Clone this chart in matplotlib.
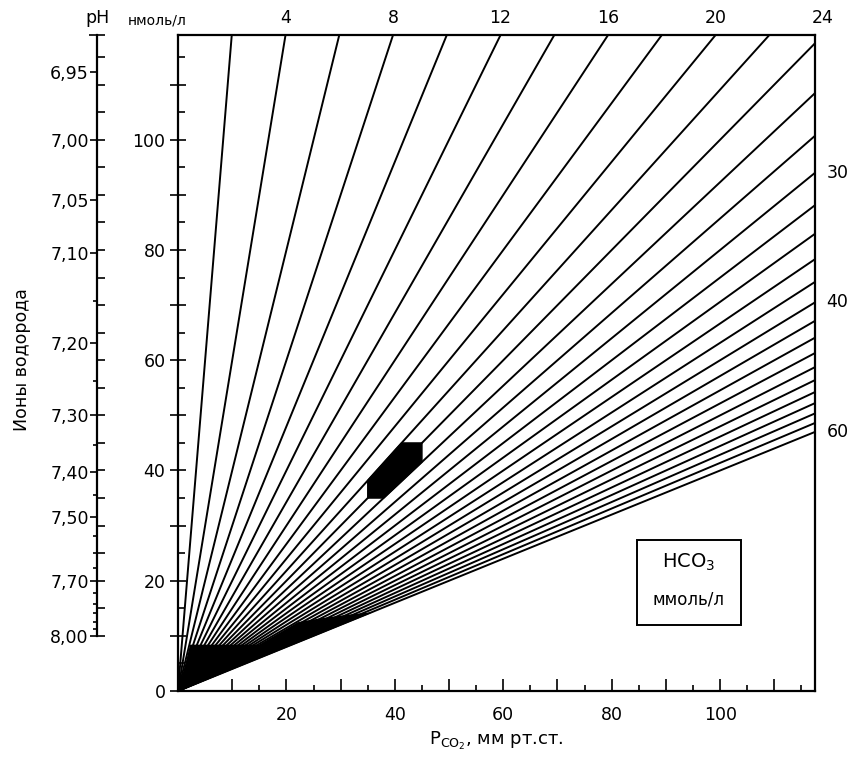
"""Nomogram: hydrogen ions vs PCO2 with HCO3 isopleths (Henderson equation)."""

import numpy as np
import matplotlib
matplotlib.use("Agg")
import matplotlib.pyplot as plt
from matplotlib.patches import Rectangle, Polygon

plt.rcParams['font.family'] = ['DejaVu Sans']

# --- data -------------------------------------------------------------
HCO3_LINES = [2, 4, 6, 8, 10, 12, 14, 16, 18, 20, 22, 24,
              26, 28, 30, 32, 34, 36, 38, 40, 42, 44, 46, 48, 50, 52, 54, 56, 58, 60]
TOP_LABELS = [4, 8, 12, 16, 20, 24]
RIGHT_LABELS = [30, 40, 60]

PH_MAJOR = [6.95, 7.00, 7.05, 7.10, 7.20, 7.30, 7.40, 7.50, 7.70, 8.00]
PH_MAJOR_TXT = ['6,95', '7,00', '7,05', '7,10', '7,20', '7,30', '7,40', '7,50', '7,70', '8,00']
PH_MINOR = [7.15, 7.25, 7.35, 7.45, 7.55, 7.60, 7.65, 7.75, 7.80, 7.85, 7.90, 7.95]

H_MAJOR = [0, 10, 20, 30, 40, 50, 60, 70, 80, 90, 100, 110]
H_LABELED = [0, 20, 40, 60, 80, 100]
H_MINOR = [5, 15, 25, 35, 45, 55, 65, 75, 85, 95, 105, 115]

PCO2_MAJOR = [10, 20, 30, 40, 50, 60, 70, 80, 90, 100, 110]
PCO2_LABELED = [20, 40, 60, 80, 100]
PCO2_MINOR = [15, 25, 35, 45, 55, 65, 75, 85, 95, 105, 115]

# normal range (PCO2, H+ and HCO3 bounds)
PCO2_NORMAL = (35, 45)
H_NORMAL = (35, 45)
HCO3_NORMAL = (22, 26)

XMAX = 117.5
YMAX = 119.0
K = 24.0  # H+ = 24 * PCO2 / HCO3


def h_ion(pco2, hco3):
    return K * np.asarray(pco2) / hco3


# --- figure -----------------------------------------------------------
W, H = 855, 757
fig = plt.figure(figsize=(W / 100, H / 100), dpi=100)
fig.patch.set_facecolor('white')

L, R, T, B = 178, 815, 35, 691
rect = [L / W, 1 - B / H, (R - L) / W, (B - T) / H]
ax = fig.add_axes(rect)
ax.set_xlim(0, XMAX)
ax.set_ylim(0, YMAX)

x = np.linspace(0, XMAX, 400)
for hco3 in HCO3_LINES:
    ax.plot(x, h_ion(x, hco3), color='black', lw=1.4, solid_capstyle='butt')

# ink pooled where the fan of lines converges near the origin (as in the print)
xw = np.linspace(0, 36, 200)
edge = np.interp(xw, [0, 22, 36], [42, 42, 60])
top = np.maximum(np.minimum(8.5, h_ion(xw, 6)), h_ion(xw, edge))
ax.fill_between(xw, h_ion(xw, max(HCO3_LINES)), top, color='black', lw=0)

# normal area
p0, p1 = PCO2_NORMAL
h0, h1 = H_NORMAL
c0, c1 = HCO3_NORMAL
verts = [(p0, h0), (p0, h_ion(p0, c0)), (h1 * c0 / K, h1), (p1, h1),
         (p1, h_ion(p1, c1)), (h0 * c1 / K, h0)]
ax.add_patch(Polygon(verts, closed=True, facecolor='black', edgecolor='black', lw=1, zorder=3))

for s in ax.spines.values():
    s.set_linewidth(1.6)

ax.set_xticks(PCO2_MAJOR)
ax.set_xticklabels([str(v) if v in PCO2_LABELED else '' for v in PCO2_MAJOR])
ax.set_xticks(PCO2_MINOR, minor=True)
ax.tick_params(axis='x', which='major', direction='in', length=9, width=1.2, pad=11, labelsize=12.5)
ax.tick_params(axis='x', which='minor', direction='in', length=4, width=1.2)

ax.set_yticks(H_MAJOR)
ax.set_yticklabels([str(v) if v in H_LABELED else '' for v in H_MAJOR])
ax.set_yticks(H_MINOR, minor=True)
ax.tick_params(axis='y', which='major', direction='inout', length=12, width=1.2, pad=3, labelsize=12.5)
ax.tick_params(axis='y', which='minor', direction='in', length=5, width=1.2)

# labels along the top edge (lines leaving through the top)
for hco3 in TOP_LABELS:
    ax.text(YMAX * hco3 / K, 1.012, str(hco3), transform=ax.get_xaxis_transform(),
            ha='center', va='bottom', fontsize=12.5)
ax.text(-0.033, 1.012, 'нмоль/л', transform=ax.transAxes, ha='center', va='bottom', fontsize=10)

# labels along the right edge
for hco3 in RIGHT_LABELS:
    ax.text(1.018, h_ion(XMAX, hco3), str(hco3), transform=ax.get_yaxis_transform(),
            ha='left', va='center', fontsize=12.5)

# HCO3 box
ax.add_patch(Rectangle((0.7206, 0.1006), 0.1634, 0.1296, transform=ax.transAxes,
                       facecolor='white', edgecolor='black', lw=1.4, zorder=4))
ax.text(0.802, 0.196, 'HCO$_3$', transform=ax.transAxes, ha='center', va='center',
        fontsize=14, zorder=5)
ax.text(0.802, 0.140, 'ммоль/л', transform=ax.transAxes, ha='center', va='center',
        fontsize=12, zorder=5)

ax.set_xlabel('P$_{\\mathrm{CO_2}}$, мм рт.ст.', fontsize=13, labelpad=4)

# --- pH scale ---------------------------------------------------------
PX = 97
ph_rect = [PX / W, rect[1], 0.0005, rect[3]]
ax_ph = fig.add_axes(ph_rect)
ax_ph.set_ylim(0, YMAX)
ax_ph.set_xticks([])
for side in ('top', 'right', 'bottom'):
    ax_ph.spines[side].set_visible(False)
ax_ph.spines['left'].set_linewidth(1.6)
ax_ph.spines['left'].set_bounds(10 ** (9 - 8.0), YMAX)
ax_ph.set_yticks([10 ** (9 - p) for p in PH_MAJOR])
ax_ph.set_yticklabels(PH_MAJOR_TXT)
ax_ph.set_yticks([10 ** (9 - p) for p in PH_MINOR], minor=True)
ax_ph.tick_params(axis='y', which='major', direction='out', length=5, width=1.2, pad=1, labelsize=12.5)
ax_ph.tick_params(axis='y', which='minor', direction='out', length=3, width=1.2)
ax_ph.patch.set_visible(False)
ax_ph.text(0, 1.012, 'pH', transform=ax_ph.transAxes, ha='center', va='bottom', fontsize=12.5)

# nmol/l ticks on the right side of the pH scale
ax_ph2 = fig.add_axes(ph_rect)
ax_ph2.set_ylim(0, YMAX)
ax_ph2.set_xticks([])
for s in ax_ph2.spines.values():
    s.set_visible(False)
ax_ph2.patch.set_visible(False)
ax_ph2.set_yticks([v for v in H_MAJOR + H_MINOR if v >= 10])
ax_ph2.set_yticklabels([])
ax_ph2.set_yticks([YMAX], minor=True)
ax_ph2.tick_params(axis='y', which='major', direction='in', length=6, width=1.2)
ax_ph2.tick_params(axis='y', which='minor', direction='inout', length=12, width=1.2)

fig.text(22 / W, 1 - 360 / H, 'Ионы водорода', rotation=90, ha='center', va='center', fontsize=12.5)

fig.savefig('out.png', dpi=100)
